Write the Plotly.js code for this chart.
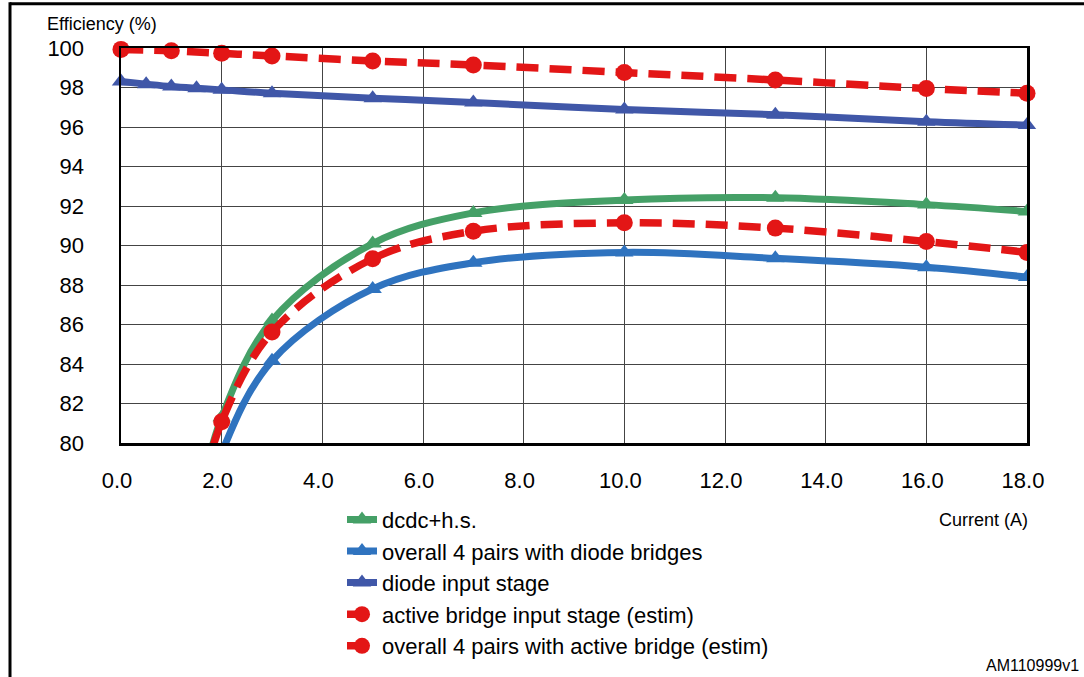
<!DOCTYPE html>
<html>
<head>
<meta charset="utf-8">
<script src="https://cdn.plot.ly/plotly-3.0.1.min.js"></script>
<style>
  html, body { margin: 0; padding: 0; background: #ffffff; }
  #chart { width: 1084px; height: 677px; }
</style>
</head>
<body>
<div id="chart"></div>
<script>
// ---- Data ----
const seriesNames = [
  "dcdc+h.s.",
  "overall 4 pairs with diode bridges",
  "diode input stage",
  "active bridge input stage (estim)",
  "overall 4 pairs with active bridge (estim)"
];

const currentDcdc = [1.5, 2, 3, 5, 7, 10, 13, 16, 18];
const effDcdc = [76.5, 81.3, 86.2, 90.1, 91.65, 92.3, 92.42, 92.07, 91.72];

const currentOverallDiode = [1.5, 2, 3, 5, 7, 10, 13, 16, 18];
const effOverallDiode = [75.0, 79.5, 84.16, 87.8, 89.13, 89.65, 89.35, 88.9, 88.4];

const currentDiodeInput = [0, 0.5, 1, 1.5, 2, 3, 5, 7, 10, 13, 16, 18];
const effDiodeInput = [98.3, 98.17, 98.05, 97.96, 97.88, 97.71, 97.46, 97.24, 96.88, 96.62, 96.27, 96.1];

const currentActiveInput = [0, 1, 2, 3, 5, 7, 10, 13, 16, 18];
const effActiveInput = [99.93, 99.86, 99.73, 99.6, 99.34, 99.14, 98.76, 98.38, 97.95, 97.71];

const currentOverallActive = [1.5, 2, 3, 5, 7, 10, 13, 16, 18];
const effOverallActive = [76.5, 81.08, 85.62, 89.33, 90.72, 91.15, 90.88, 90.2, 89.65];

const xTickVals = [0, 2, 4, 6, 8, 10, 12, 14, 16, 18];
const xTickText = ["0.0", "2.0", "4.0", "6.0", "8.0", "10.0", "12.0", "14.0", "16.0", "18.0"];
const yTickVals = [80, 82, 84, 86, 88, 90, 92, 94, 96, 98, 100];

const xTitle = "Current (A)";
const yTitle = "Efficiency (%)";
const docId = "AM110999v1";

// ---- Styles ----
const FONT = "'Liberation Sans', Arial, Helvetica, sans-serif";
const GREEN = "#45A067";
const LBLUE = "#2F73BF";
const DBLUE = "#4057A8";
const RED = "#E31616";

function solid(x, y, name, color, clip) {
  return {
    type: "scatter", mode: "lines+markers", name: name, x: x, y: y,
    cliponaxis: clip,
    line: { color: color, width: 7, shape: "spline", smoothing: 1 },
    marker: { symbol: "triangle-up", size: 16, color: color }
  };
}
function dashed(x, y, name, color, clip) {
  return {
    type: "scatter", mode: "lines+markers", name: name, x: x, y: y,
    cliponaxis: clip,
    line: { color: color, width: 7.5, shape: "spline", smoothing: 1, dash: "22px,11px" },
    marker: { symbol: "circle", size: 17, color: color }
  };
}

const traces = [
  solid(currentDcdc, effDcdc, seriesNames[0], GREEN, true),
  solid(currentOverallDiode, effOverallDiode, seriesNames[1], LBLUE, true),
  solid(currentDiodeInput, effDiodeInput, seriesNames[2], DBLUE, false),
  dashed(currentActiveInput, effActiveInput, seriesNames[3], RED, false),
  dashed(currentOverallActive, effOverallActive, seriesNames[4], RED, true)
];

// plot area in pixels: x 121..1027, y 47.7..443.3
const PL = 121, PR = 1027, PT = 47.7, PB = 443.3;
const px = v => (v - PL) / (PR - PL);
const py = v => (PB - v) / (PB - PT);

const layout = {
  width: 1084, height: 677,
  margin: { l: PL, r: 1084 - PR, t: PT, b: 677 - PB, pad: 0, autoexpand: false },
  paper_bgcolor: "#ffffff",
  plot_bgcolor: "#ffffff",
  font: { family: FONT, color: "#000000", size: 22 },
  showlegend: true,
  legend: {
    x: px(342), y: py(499), xanchor: "left", yanchor: "top",
    orientation: "v", traceorder: "normal",
    font: { family: FONT, size: 22, color: "#000000" },
    bgcolor: "rgba(0,0,0,0)", itemwidth: 30, tracegroupgap: 0
  },
  xaxis: {
    range: [0, 18], tickvals: xTickVals, ticktext: xTickText,
    showgrid: true, gridcolor: "#444444", gridwidth: 1,
    showline: true, linecolor: "#000000", linewidth: 2.5, mirror: true,
    ticks: "", ticklabelstandoff: 16, ticklabelshift: -4,
    tickfont: { family: FONT, size: 22, color: "#000000" },
    zeroline: false, fixedrange: true
  },
  yaxis: {
    range: [80, 100], tickvals: yTickVals,
    showgrid: true, gridcolor: "#444444", gridwidth: 1,
    showline: true, linecolor: "#000000", linewidth: 2.5, mirror: true,
    ticks: "", ticklabelstandoff: 30,
    tickfont: { family: FONT, size: 22, color: "#000000" },
    zeroline: false, fixedrange: true
  },
  annotations: [
    { text: yTitle, xref: "paper", yref: "paper", x: px(45), y: py(24),
      xanchor: "left", yanchor: "middle", showarrow: false,
      font: { family: FONT, size: 18, color: "#000000" } },
    { text: xTitle, xref: "paper", yref: "paper", x: px(1030), y: py(520),
      xanchor: "right", yanchor: "middle", showarrow: false,
      font: { family: FONT, size: 18, color: "#000000" } },
    { text: docId, xref: "paper", yref: "paper", x: px(1081), y: py(666),
      xanchor: "right", yanchor: "middle", showarrow: false,
      font: { family: FONT, size: 16, color: "#000000" } }
  ],
  shapes: [
    { type: "line", xref: "paper", yref: "paper", x0: px(10), x1: px(1090), y0: py(3.5), y1: py(3.5),
      line: { color: "#000000", width: 3 } },
    { type: "line", xref: "paper", yref: "paper", x0: px(10), x1: px(10), y0: py(2), y1: py(690),
      line: { color: "#000000", width: 3 } }
  ]
};

Plotly.newPlot("chart", traces, layout, { displayModeBar: false, staticPlot: true });
</script>
</body>
</html>
